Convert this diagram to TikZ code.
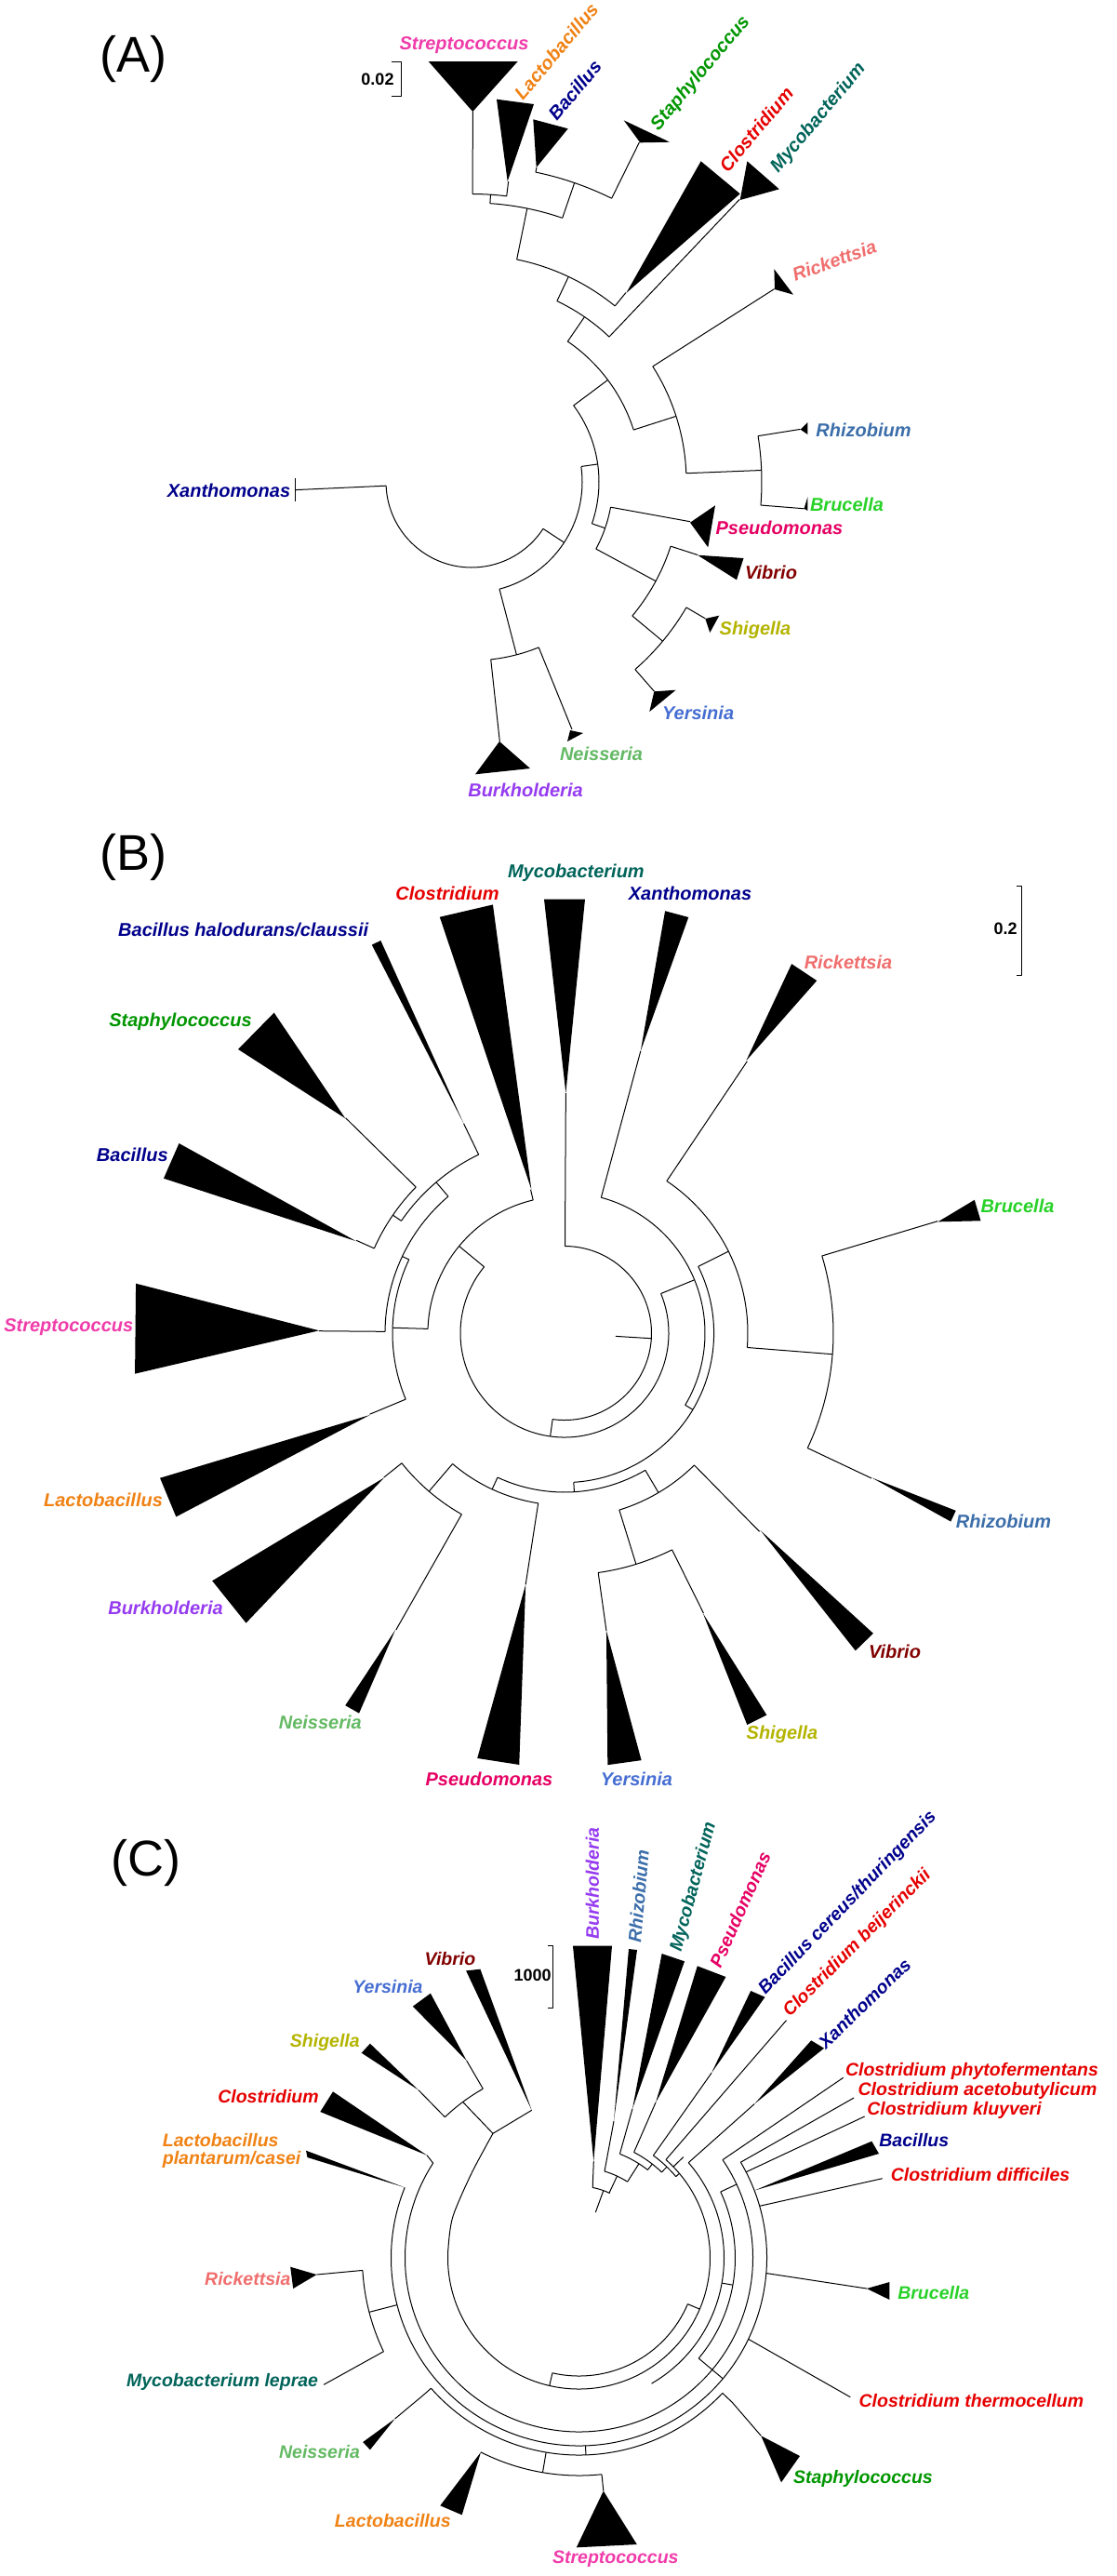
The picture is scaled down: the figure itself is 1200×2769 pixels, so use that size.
\documentclass[tikz,border=0pt]{standalone}
\usepackage{fontspec}
\setmainfont{Liberation Sans}
\definecolor{cStrep}{RGB}{240,60,170}
\definecolor{cLacto}{RGB}{240,130,20}
\definecolor{cBac}{RGB}{0,0,140}
\definecolor{cStaph}{RGB}{0,150,0}
\definecolor{cClos}{RGB}{230,0,0}
\definecolor{cMyco}{RGB}{0,100,90}
\definecolor{cRick}{RGB}{240,110,110}
\definecolor{cRhiz}{RGB}{60,110,170}
\definecolor{cBruc}{RGB}{40,210,40}
\definecolor{cPseu}{RGB}{230,0,100}
\definecolor{cVib}{RGB}{130,0,0}
\definecolor{cShig}{RGB}{180,180,0}
\definecolor{cYers}{RGB}{70,110,210}
\definecolor{cNeis}{RGB}{100,185,100}
\definecolor{cBurk}{RGB}{150,60,240}
\newcommand\Rad[3]{\draw (#1:#2) -- (#1:#3);}
\newcommand\Arc[3]{\draw (#1:#3) arc[start angle=#1, end angle=#2, radius=#3];}
\newcommand\Tri[6]{\fill (#1:#2) -- (#3:#6) -- (#4:#6) -- cycle;}
\begin{document}
\begin{tikzpicture}[x=1pt,y=-1pt,line width=1pt,line join=round,
  lab/.style={inner sep=0pt,font=\fontsize{20}{24}\selectfont\bfseries\itshape},
  labc/.style={inner sep=0pt,font=\fontsize{19.5}{23}\selectfont\bfseries\itshape},
  panel/.style={inner sep=0pt,font=\fontsize{54}{60}\selectfont},
  scl/.style={inner sep=0pt,font=\fontsize{18}{20}\selectfont\bfseries}]
\useasboundingbox (0,0) rectangle (1200,2769);
\fill[white] (0,0) rectangle (1200,2769);

%================ PANEL A =================
\node[panel] (pA) at (143.6,63.5) {(A)};
\draw (421,66) -- (431,66) -- (431,103.3) -- (421,103.3);
\node[scl] (sA) at (406,85.5) {0.02};
\begin{scope}[shift={(507,518)}]
\Arc{177.5}{33.2}{92}
\Rad{177.4}{92}{189.7}
\Rad{33.2}{92}{119}
\Arc{75.4}{-7.8}{119}
\Rad{75.4}{119}{192}
\Arc{83.8}{67.9}{192}
\Rad{83.8}{192}{280.5}
\Rad{67.9}{192}{287}
\Rad{-8}{119}{137}
\Arc{-36.8}{19.1}{137}
\Rad{19.1}{137}{152}
\Arc{10.3}{28.3}{152}
\Rad{10.3}{152}{239}
\Rad{28.3}{152}{225}
\Arc{17.9}{39.8}{225}
\Rad{17.9}{225}{255.4}
\Rad{39.8}{225}{267.5}
\Arc{30.3}{48.9}{267.5}
\Rad{30.3}{267.5}{291}
\Rad{48.9}{267.5}{298.8}
\Rad{-36.8}{137}{183}
\Arc{-55.6}{-17.8}{183}
\Rad{-17.8}{183}{231}
\Arc{-32.5}{-2.3}{231}
\Rad{-32.5}{231}{386}
\Rad{-2.3}{231}{312}
\Arc{-9.1}{4.6}{312}
\Rad{-9.1}{312}{358}
\Rad{4.6}{312}{358.8}
\Rad{-55.6}{183}{215}
\Arc{-64.7}{-46.5}{215}
\Rad{-46.5}{215}{418.5}
\Rad{-64.7}{215}{244}
\Arc{-78.5}{-50.8}{244}
\Rad{-50.8}{244}{262.4}
\Rad{-78.5}{244}{300}
\Arc{-86.2}{-71}{300}
\Rad{-71}{300}{340}
\Arc{-78.3}{-63.7}{340}
\Rad{-78.3}{340}{345}
\Rad{-63.7}{340}{407.3}
\Rad{-86.2}{300}{309.5}
\Arc{-89.8}{-83}{309.5}
\Rad{-89.8}{309.5}{398}
\Rad{-83}{309.5}{325.3}
\end{scope}
\fill (508.3,120) -- (460.7,66) -- (556.7,66) -- cycle;
\fill (545.7,195) -- (534,106.7) -- (574,112) -- cycle;
\fill (576.7,180) -- (573.3,128.3) -- (610.7,138.3) -- cycle;
\fill (688.3,153.3) -- (670.7,129.3) -- (720,152.7) -- cycle;
\fill (673.3,315) -- (753.6,173.3) -- (795.7,208.3) -- cycle;
\fill (795.7,215) -- (803.4,173.3) -- (837.8,203.3) -- cycle;
\fill (833,311) -- (832.4,289.3) -- (853,316.7) -- cycle;
\fill (860.7,461.7) -- (868.4,454) -- (868.4,467) -- cycle;
\fill (864.6,546.7) -- (868.4,534) -- (868.4,549) -- cycle;
\fill (742,561.7) -- (769,543.3) -- (761.3,588.3) -- cycle;
\fill (750,596.7) -- (799.5,600) -- (792,623.3) -- cycle;
\fill (758.3,665) -- (773.3,661.7) -- (763.3,680) -- cycle;
\fill (703.3,743.3) -- (726.7,741.7) -- (698.3,765) -- cycle;
\fill (613,785) -- (627,788) -- (610,797) -- cycle;
\fill (537,797) -- (511,832.3) -- (570,826) -- cycle;
\draw (317.5,514) -- (317.5,539);
\node[lab,text=cStrep] (aStrep) at (499,49) {Streptococcus};
\node[lab,text=cLacto,rotate=50] (aLacto) at (598,55) {Lactobacillus};
\node[lab,text=cBac,rotate=50] (aBac) at (618,97) {Bacillus};
\node[lab,text=cStaph,rotate=50] (aStaph) at (753.5,79) {Staphylococcus};
\node[lab,text=cClos,rotate=50] (aClos) at (813,139) {Clostridium};
\node[lab,text=cMyco,rotate=50] (aMyco) at (880,127) {Mycobacterium};
\node[lab,text=cRick,rotate=20] (aRick) at (897,280) {Rickettsia};
\node[lab,text=cRhiz] (aRhiz) at (928.5,462.5) {Rhizobium};
\node[lab,text=cBruc] (aBruc) at (910.5,542.5) {Brucella};
\node[lab,text=cPseu] (aPseu) at (838,567.5) {Pseudomonas};
\node[lab,text=cVib] (aVib) at (829,615) {Vibrio};
\node[lab,text=cShig] (aShig) at (812,677) {Shigella};
\node[lab,text=cYers] (aYers) at (750.6,766) {Yersinia};
\node[lab,text=cNeis] (aNeis) at (646.5,810) {Neisseria};
\node[lab,text=cBurk] (aBurk) at (565,849.5) {Burkholderia};
\node[lab,text=cBac] (aXan) at (246,527) {Xanthomonas};

%================ PANEL B =================
\node[panel] (pB) at (143.6,921.5) {(B)};
\draw (1092.6,952.7) -- (1098,952.7) -- (1098,1048.3) -- (1092.6,1048.3);
\node[scl] (sB) at (1081,998.5) {0.2};
\begin{scope}[shift={(607,1433)}]
\Arc{270.3}{457.9}{93.5}
\Rad{3.5}{55}{93.5}
\Rad{270.3}{93.5}{258} \Tri{270.3}{258}{267.3}{272.7}{0}{467}
\Rad{97.9}{93.5}{112}
\Arc{-22.3}{219.5}{112}
\Rad{219.5}{112}{147}
\Arc{181.8}{256.7}{147}
\Rad{256.7}{147}{158.5} \Tri{257}{158.5}{253.3}{260.5}{0}{467}
\Rad{181.8}{147}{185}
\Arc{157.4}{205.3}{185}
\Rad{157.4}{185}{227} \Tri{157.2}{227}{154.7}{160.3}{0}{462}
\Rad{205.3}{185}{193}
\Arc{180.5}{229.6}{193}
\Rad{180.5}{193}{264} \Tri{180.6}{264}{174.6}{186.6}{0}{464}
\Rad{229.6}{193}{213}
\Arc{214.5}{244.3}{213}
\Rad{244.3}{213}{250} \Tri{244.3}{250}{243.6}{244.9}{0}{466}
\Rad{214.5}{213}{224}
\Arc{204}{224.5}{224}
\Rad{204}{224}{245} \Tri{203.8}{245}{201.1}{206.2}{0}{462}
\Rad{224.5}{224}{330} \Tri{224.4}{330}{221}{227.8}{0}{465}
\Rad{-22.3}{112}{151}
\Arc{-74.9}{30.8}{151}
\Rad{-74.9}{151}{314} \Tri{-74.9}{314}{-76.6}{-73.4}{0}{466.5}
\Rad{30.8}{151}{160.6}
\Arc{-26.5}{86.5}{160.6}
\Rad{-26.5}{160.6}{197}
\Arc{-56.1}{4.5}{197}
\Rad{-56.1}{197}{352} \Tri{-56.3}{352}{-58.4}{-54.4}{0}{466}
\Rad{4.5}{197}{289}
\Arc{-16.7}{25.3}{289}
\Rad{-16.7}{289}{419} \Tri{-16.6}{419}{-18}{-15.1}{0}{463.5}
\Rad{25.3}{289}{365} \Tri{25.2}{365}{24.4}{26}{0}{462}
\Rad{86.5}{160.6}{171}
\Arc{59.5}{114.9}{171}
\Rad{59.5}{171}{199}
\Arc{45.5}{72.8}{199}
\Rad{45.5}{199}{299} \Tri{45.2}{299}{44.2}{47.5}{0}{463}
\Rad{72.8}{199}{260}
\Arc{63.6}{82}{260}
\Rad{63.6}{260}{336} \Tri{63.7}{336}{62.1}{65}{0}{464.5}
\Rad{82}{260}{323} \Tri{82}{323}{79.8}{84.3}{0}{466.5}
\Rad{114.9}{171}{185}
\Arc{98.8}{130.6}{185}
\Rad{98.8}{185}{273.5} \Tri{98.8}{273.5}{96}{101.6}{0}{466.5}
\Rad{130.6}{185}{224}
\Arc{119.6}{141.4}{224}
\Rad{119.6}{224}{367} \Tri{119.7}{367}{118.4}{120.5}{0}{464.5}
\Rad{141.4}{224}{248.5} \Tri{141.3}{248.5}{137.7}{144.9}{0}{463}
\end{scope}
\node[lab,text=cMyco] (bMyco) at (619.4,938.5) {Mycobacterium};
\node[lab,text=cClos] (bClos) at (481,960) {Clostridium};
\node[lab,text=cBac] (bXan) at (742,960.5) {Xanthomonas};
\node[lab,text=cBac] (bBhal) at (261.7,999) {Bacillus halodurans/claussii};
\node[lab,text=cRick] (bRick) at (912,1034) {Rickettsia};
\node[lab,text=cStaph] (bStaph) at (194,1098) {Staphylococcus};
\node[lab,text=cBac] (bBac) at (142.3,1241) {Bacillus};
\node[lab,text=cBruc] (bBruc) at (1094,1296) {Brucella};
\node[lab,text=cStrep] (bStrep) at (73.8,1427) {Streptococcus};
\node[lab,text=cLacto] (bLacto) at (111,1612) {Lactobacillus};
\node[lab,text=cRhiz] (bRhiz) at (1079,1635) {Rhizobium};
\node[lab,text=cBurk] (bBurk) at (178,1728) {Burkholderia};
\node[lab,text=cVib] (bVib) at (962,1775) {Vibrio};
\node[lab,text=cNeis] (bNeis) at (344.3,1851) {Neisseria};
\node[lab,text=cShig] (bShig) at (841,1864) {Shigella};
\node[lab,text=cPseu] (bPseu) at (526,1912.5) {Pseudomonas};
\node[lab,text=cYers] (bYers) at (684.4,1912.5) {Yersinia};

%================ PANEL C =================
\node[panel] (pC) at (156.9,2002.5) {(C)};
\draw (589,2091.7) -- (594.5,2091.7) -- (594.5,2158.3) -- (589,2158.3);
\node[scl] (sC) at (572.7,2123.3) {1000};
\begin{scope}[shift={(622.5,2427)}]
% top ladder
\Rad{-70}{52}{77}
\Arc{-79}{-64.5}{77}
\Rad{-65}{77}{97}
\Arc{-73.6}{-57.5}{97}
\Rad{-57.5}{97}{120}
\Arc{-68.5}{-52}{120}
\Rad{-52}{120}{128}
\Arc{-62.5}{-46}{128}
\Rad{-46}{128}{136}
\Arc{-54}{-40}{136}
\Rad{-40}{136}{141}
% main ring
\Arc{-48.5}{184}{141}
\Arc{23}{103}{127}
\Rad{23}{127}{141}
\Rad{103}{127}{141}
% right side
\Rad{-44}{141}{156}
\Arc{-41}{60}{156}
\Rad{10}{156}{168}
\Arc{-25}{40}{168}
\Rad{-25}{168}{187}
\Arc{-34.3}{213}{187}
\Rad{40}{168}{202}
\Arc{-30.6}{202}{202}
% left
\Rad{165.5}{202}{233}
\Arc{154.4}{176.7}{233}
% bottom
\Rad{88}{202}{212}
\Arc{43.3}{138.6}{212}
\Rad{43.3}{212}{226}
\Rad{138.6}{212}{224}
\Rad{99.6}{212}{234}
\Arc{84}{116.8}{234}
\Rad{84}{234}{252}
% upper left (Shigella / Yersinia)
\Arc{226.4}{240.4}{209}
\end{scope}
% upper-left connector from ring to Vibrio/Shigella/Yersinia node
\coordinate (vsy) at (530,2293.3);
\draw plot[smooth] coordinates {(481.9,2417.2) (486.7,2383.3) (506.7,2336.7) (vsy)};
\draw (vsy) -- (497.6,2259.4);
\draw (vsy) -- (571.7,2268.3);
% C stems & triangles
\draw (637.2,2351.4) -- (638.3,2323.3);
\fill (638.3,2323.3) -- (616,2091.7) -- (658,2091.7) -- cycle;
\draw (650,2334) -- (660,2280);
\fill (660,2280) -- (676,2095) -- (685,2096) -- cycle;
\draw (666.4,2315.3) -- (680,2266.7);
\fill (680,2266.7) -- (711.6,2100) -- (736,2108.3) -- cycle;
\draw (681.6,2313.5) -- (705,2260);
\fill (705,2260) -- (749.8,2113.3) -- (780.4,2125) -- cycle;
\draw (702.4,2317) -- (765,2228.3);
\fill (765,2228.3) -- (807.2,2140) -- (822.5,2146.7) -- cycle;
\draw (716,2321.4) -- (845.5,2171.7);
\draw (740.2,2324.7) -- (811,2261.7);
\fill (811,2261.7) -- (872.2,2193.3) -- (886,2201.7) -- cycle;
\draw (777,2321.6) -- (906.7,2233.3);
\draw (796.4,2324.2) -- (918.1,2255);
\draw (802.2,2334.7) -- (929.6,2275);
\fill (811.1,2354.6) -- (937.3,2301.7) -- (945,2315) -- cycle;
\draw (816.7,2371.3) -- (948.7,2341.7);
\draw (823.8,2443.5) -- (931.9,2460);
\fill (931.9,2460) -- (956.4,2453) -- (956.4,2472) -- cycle;
\draw (804.6,2514.3) -- (914.3,2576.7);
\draw (787,2582) -- (818.3,2618.3);
\fill (818.3,2618.3) -- (860,2640) -- (840,2668.3) -- cycle;
\fill (648.8,2677.6) -- (619.8,2738.3) -- (684.8,2735) -- cycle;
\fill (517,2635.9) -- (473.3,2693.3) -- (496.7,2703.3) -- cycle;
\draw (454.5,2575.1) -- (424.6,2600);
\fill (424.6,2600) -- (390.2,2625) -- (397.9,2633.3) -- cycle;
\draw (412.4,2527.7) -- (348.1,2563.3);
\draw (389.9,2440.4) -- (340.5,2445);
\fill (340.5,2445) -- (312.2,2436.7) -- (315.2,2460) -- cycle;
\fill (435.2,2351.3) -- (329,2311.7) -- (330.5,2319) -- cycle;
\draw (465.7,2325.2) -- (459,2316.7);
\fill (459,2316.7) -- (358,2248.3) -- (344.3,2270) -- cycle;
\draw (478.3,2275.6) -- (450,2246.7);
\fill (450,2246.7) -- (397.9,2196.7) -- (388.7,2206.7) -- cycle;
\draw (519.3,2245.2) -- (501.7,2215);
\fill (501.7,2215) -- (462.9,2142.7) -- (443.8,2156.7) -- cycle;
\fill (571.7,2268.3) -- (501.1,2118.3) -- (516.4,2116.7) -- cycle;
\node[labc,text=cBurk,rotate=90] (cBurkL) at (637,2024.7) {Burkholderia};
\node[labc,text=cRhiz,rotate=85] (cRhizL) at (686.6,2038) {Rhizobium};
\node[labc,text=cMyco,rotate=75] (cMycoL) at (746,2028.3) {Mycobacterium};
\node[labc,text=cPseu,rotate=66] (cPseuL) at (795.7,2052.5) {Pseudomonas};
\node[labc,text=cBac,rotate=46] (cBcerL) at (911.6,2045.8) {Bacillus cereus/thuringensis};
\node[labc,text=cClos,rotate=45] (cCbeiL) at (922,2089) {Clostridium beijerinckii};
\node[labc,text=cBac,rotate=44] (cXanL) at (929.6,2153.3) {Xanthomonas};
\node[labc,text=cVib] (cVibL) at (484,2106) {Vibrio};
\node[labc,text=cYers] (cYersL) at (417,2136) {Yersinia};
\node[labc,text=cShig] (cShigL) at (349.3,2195.3) {Shigella};
\node[labc,text=cClos] (cClosL) at (288.5,2254) {Clostridium};
\node[labc,text=cLacto,anchor=base west] (cLpl1) at (174.4,2307) {Lactobacillus};
\node[labc,text=cLacto,anchor=base west] (cLpl2) at (174.4,2326) {plantarum/casei};
\node[labc,text=cClos] (cCphL) at (1045,2226) {Clostridium phytofermentans};
\node[labc,text=cClos] (cCacL) at (1051,2247.5) {Clostridium acetobutylicum};
\node[labc,text=cClos] (cCklL) at (1026,2268.3) {Clostridium kluyveri};
\node[labc,text=cBac] (cBacL) at (982.8,2300) {Bacillus};
\node[labc,text=cClos] (cCdiL) at (1054,2337.5) {Clostridium difficiles};
\node[labc,text=cBruc] (cBrucL) at (1003.8,2464.2) {Brucella};
\node[labc,text=cClos] (cCthL) at (1044.4,2580.8) {Clostridium thermocellum};
\node[labc,text=cStaph] (cStaphL) at (928,2664.2) {Staphylococcus};
\node[labc,text=cStrep] (cStrepL) at (661.8,2750.8) {Streptococcus};
\node[labc,text=cLacto] (cLactoL) at (422.3,2709.2) {Lactobacillus};
\node[labc,text=cNeis] (cNeisL) at (343.5,2635) {Neisseria};
\node[labc,text=cMyco] (cMlepL) at (239.1,2560.8) {Mycobacterium leprae};
\node[labc,text=cRick] (cRickL) at (266.3,2449.7) {Rickettsia};
\end{tikzpicture}
\end{document}
